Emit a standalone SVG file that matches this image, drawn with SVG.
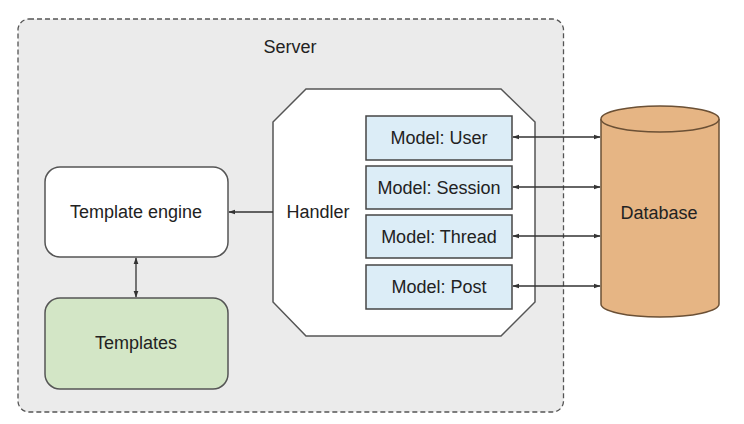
<svg xmlns="http://www.w3.org/2000/svg" width="744" height="424" viewBox="0 0 744 424">
<defs>
<style>
text{font-family:"Liberation Sans",Arial,sans-serif;fill:#222;text-anchor:middle;dominant-baseline:central;font-size:18px}
.model rect{fill:#dcedf7;stroke:#454545;stroke-width:1.5}
.conn line{stroke:#333;stroke-width:1.3;fill:none}
</style>
<marker id="ah" viewBox="0 0 10 10" refX="9" refY="5" markerWidth="7" markerHeight="7" orient="auto-start-reverse" markerUnits="userSpaceOnUse">
<path d="M0,1.5 L10,5 L0,8.5 Z" fill="#333"/>
</marker>
</defs>
<rect width="744" height="424" fill="#fff"/>
<g id="server">
<rect x="18" y="19" width="545.5" height="393" rx="11" fill="#ebebeb" stroke="#555" stroke-width="1.3" stroke-dasharray="5,3"/>
<text x="290" y="47">Server</text>
</g>
<g id="handler">
<path d="M306,89 L501,89 L535,122 L535,302 L501,336 L306,336 L273,302 L273,122 Z" fill="#fff" stroke="#555" stroke-width="1.5"/>
<text x="318" y="212">Handler</text>
</g>
<g id="model-user" class="model"><rect x="366" y="116" width="146" height="44"/><text x="439" y="138">Model: User</text></g>
<g id="model-session" class="model"><rect x="366" y="166" width="146" height="43"/><text x="439" y="187.5">Model: Session</text></g>
<g id="model-thread" class="model"><rect x="366" y="215" width="146" height="43"/><text x="439" y="236.5">Model: Thread</text></g>
<g id="model-post" class="model"><rect x="366" y="265" width="146" height="44"/><text x="439" y="287">Model: Post</text></g>
<g id="template-engine">
<rect x="45" y="167" width="183" height="90" rx="15" fill="#fff" stroke="#555" stroke-width="1.5"/>
<text x="136" y="212">Template engine</text>
</g>
<g id="templates">
<rect x="45" y="298" width="183" height="91" rx="15" fill="#d3e6c6" stroke="#555" stroke-width="1.5"/>
<text x="136" y="343">Templates</text>
</g>
<g id="database">
<path d="M601,119 L601,304 A59,13 0 0 0 719,304 L719,119" fill="#e6b584" stroke="#6b5035" stroke-width="1.5"/>
<ellipse cx="660" cy="119" rx="59" ry="13" fill="#e6b584" stroke="#6b5035" stroke-width="1.5"/>
<text x="659" y="213">Database</text>
</g>
<g id="connectors" class="conn">
<line x1="273" y1="212" x2="229" y2="212" marker-end="url(#ah)"/>
<line x1="136" y1="258" x2="136" y2="297" marker-start="url(#ah)" marker-end="url(#ah)"/>
<line x1="513" y1="137" x2="600" y2="137" marker-start="url(#ah)" marker-end="url(#ah)"/>
<line x1="513" y1="187" x2="600" y2="187" marker-start="url(#ah)" marker-end="url(#ah)"/>
<line x1="513" y1="236" x2="600" y2="236" marker-start="url(#ah)" marker-end="url(#ah)"/>
<line x1="513" y1="286" x2="600" y2="286" marker-start="url(#ah)" marker-end="url(#ah)"/>
</g>
</svg>
